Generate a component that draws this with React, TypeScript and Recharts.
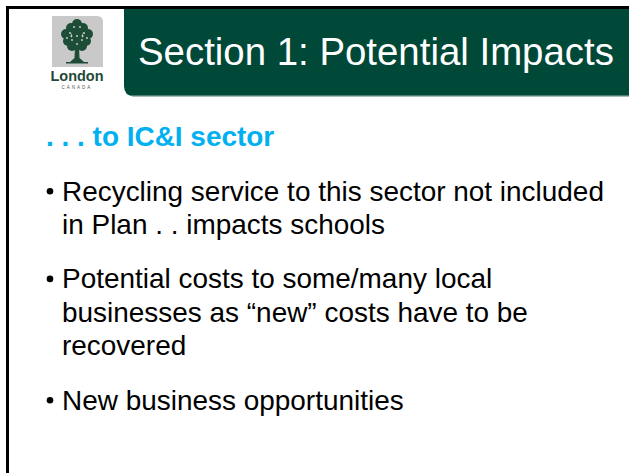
import React from "react";
import { LineChart, Customized, Text } from "recharts";

const titleText = "Section 1: Potential Impacts";
const subheadingText = ". . . to IC&I sector";
const bulletItems: string[][] = [
  ["Recycling service to this sector not included", "in Plan . . impacts schools"],
  ["Potential costs to some/many local", "businesses as \u201cnew\u201d costs have to be", "recovered"],
  ["New business opportunities"],
];
const logoWord = "London";
const logoSub = "CANADA";

const W = 629;
const H = 473;
const GREEN = "#004838";
const FONT = "'Liberation Sans', Arial, sans-serif";
const BODY = 27.95;

const canopy = [
  [77, 24, 5], [71, 28, 5], [83, 28, 5], [66, 34, 5], [77, 32, 6], [88, 34, 5],
  [68, 41, 5], [77, 40, 6], [86, 41, 5], [72, 46, 5], [82, 46, 5],
];
const specks = [
  [74, 27], [80, 27], [70, 33], [84, 33], [77, 36], [72, 40], [82, 40], [77, 44], [67, 38], [87, 38],
];

const Slide = () => {
  const blocks: React.ReactNode[] = [];
  let y = 200.5;
  const lineH = 33.6;
  const paraGap = 20.5;
  bulletItems.forEach((lines, bi) => {
    blocks.push(<circle key={`b${bi}`} cx={50} cy={y - 9.3} r={3.3} fill="#000" />);
    lines.forEach((ln, li) => {
      blocks.push(
        <Text
          key={`t${bi}-${li}`}
          x={62}
          y={y}
          fontSize={BODY}
          fontFamily={FONT}
          fill="#000"
          textAnchor="start"
          verticalAnchor="end"
        >
          {ln}
        </Text>
      );
      y += lineH;
    });
    y += paraGap;
  });

  return (
    <g>
      <rect x={0} y={0} width={W} height={H} fill="#fff" />
      <rect x={6} y={6} width={W} height={3} fill="#000" />
      <rect x={6} y={6} width={3} height={H} fill="#000" />
      <path d={`M124 9 L${W} 9 L${W} 96 L134 96 Q124 96 124 86 Z`} fill={GREEN} />
      <rect x={132} y={95} width={W - 132} height={1.5} fill="#4f7f70" />
      <Text
        x={138}
        y={64.5}
        fontSize={38.4}
        fontFamily={FONT}
        fill="#fff"
        textAnchor="start"
        verticalAnchor="end"
      >
        {titleText}
      </Text>
      <path d="M52 16 L97 16 Q103 16 103 22 L103 67 L52 67 Z" fill="#c9c9c9" />
      {canopy.map(([cx, cy, r], i) => (
        <circle key={`c${i}`} cx={cx} cy={cy} r={r} fill="#1d4d36" />
      ))}
      {specks.map(([cx, cy], i) => (
        <circle key={`s${i}`} cx={cx} cy={cy} r={0.9} fill="#cfd8d2" />
      ))}
      <path d="M75 46 L79 46 L79.5 58 L84 62 L70 62 L74.5 58 Z" fill="#1d4d36" />
      <rect x={66} y={62} width={22} height={1.5} fill="#1d4d36" />
      <Text
        x={77}
        y={81}
        fontSize={14.5}
        fontWeight="bold"
        fontFamily={FONT}
        fill="#1f4a38"
        textAnchor="middle"
        verticalAnchor="end"
      >
        {logoWord}
      </Text>
      <Text
        x={77}
        y={88.5}
        fontSize={4.5}
        fontFamily={FONT}
        fill="#555"
        textAnchor="middle"
        verticalAnchor="end"
        letterSpacing={2}
      >
        {logoSub}
      </Text>
      <Text
        x={46}
        y={146}
        fontSize={BODY}
        fontWeight="bold"
        fontFamily={FONT}
        fill="#00b0f0"
        textAnchor="start"
        verticalAnchor="end"
      >
        {subheadingText}
      </Text>
      {blocks}
    </g>
  );
};

export default function App() {
  return (
    <div style={{ position: "absolute", left: 0, top: 0, width: W, height: H, background: "#fff" }}>
      <LineChart width={W} height={H} data={[]} margin={{ top: 0, right: 0, bottom: 0, left: 0 }}>
        <Customized component={Slide} />
      </LineChart>
    </div>
  );
}
